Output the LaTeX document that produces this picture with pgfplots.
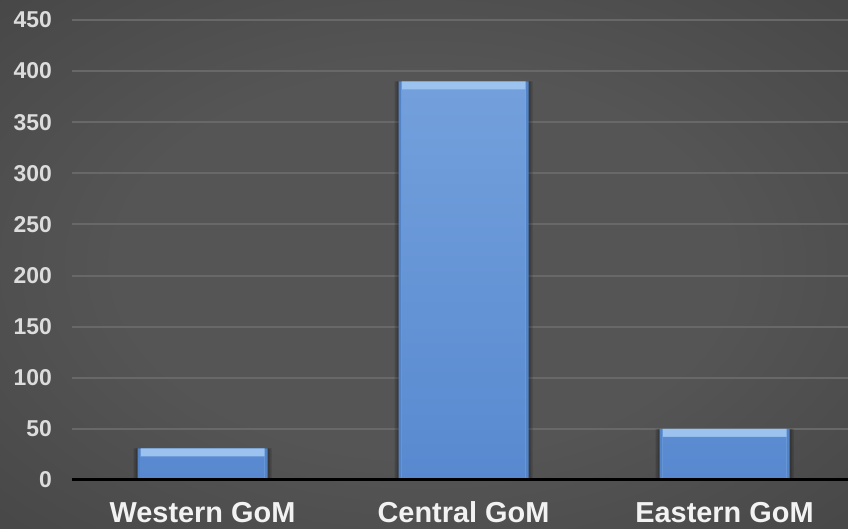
\documentclass[border=0pt]{standalone}
\usepackage{fontspec}
\setmainfont{Liberation Sans}
\usepackage{pgfplots}
\usepackage{pgfplotstable}
\pgfplotsset{compat=1.18}

\definecolor{bgcentre}{HTML}{555555}
\definecolor{bgmid}{HTML}{3C3C3C}
\definecolor{bgedge}{HTML}{262626}
\definecolor{gridgray}{HTML}{686868}
\definecolor{ticktext}{HTML}{DCDCDC}
\definecolor{bartop}{HTML}{73A0DC}
\definecolor{barbottom}{HTML}{5889D0}
\definecolor{barlight}{HTML}{9CC3F0}
\definecolor{barside}{HTML}{5384C8}

\pgfdeclareradialshading{chartbg}{\pgfpoint{0bp}{0bp}}{%
  color(0bp)=(bgcentre); color(18bp)=(bgcentre); color(50bp)=(bgmid); color(72bp)=(bgedge)}

% gas volume by region
\pgfplotstableread{
x v
0 31
1 390
2 50
}\regiondata

\begin{document}
\begin{tikzpicture}[x=1bp,y=1bp]
\useasboundingbox (0,0) rectangle (848,529);
\clip (0,0) rectangle (848,529);
\shade[shading=chartbg] (0,0) rectangle (848,529);
\begin{axis}[
  at={(72bp,49bp)}, anchor=south west,
  scale only axis, width=783bp, height=460bp,
  xmin=-0.5, xmax=2.5, ymin=0, ymax=450,
  xtick={0,1,2},
  xticklabels={Western GoM, Central GoM, Eastern GoM},
  ytick={0,50,...,450},
  axis line style={draw=none},
  tick style={draw=none},
  ymajorgrids,
  grid style={gridgray, line width=2bp},
  /pgf/number format/assume math mode=true,
  yticklabel style={font=\fontsize{23}{27}\selectfont\bfseries, color=ticktext,
    anchor=east, inner sep=0pt, xshift=-20bp},
  xticklabel style={font=\fontsize{29}{34}\selectfont\bfseries, color=white!95!black,
    anchor=base, inner sep=0pt, yshift=-43bp},
  clip=false,
]
% soft shadow around each bar
\addplot[ybar, bar width=138bp, bar shift=0pt, fill=black, fill opacity=0.16, draw=none]
  table[x=x, y=v] {\regiondata};
\addplot[ybar, bar width=134bp, bar shift=0pt, fill=black, fill opacity=0.16, draw=none]
  table[x=x, y=v] {\regiondata};
% bar body: darker side bevels
\addplot[ybar, bar width=130bp, bar shift=0pt, fill=barside, draw=none]
  table[x=x, y=v] {\regiondata};
% light top bevel
\addplot[ybar, bar width=124bp, bar shift=0pt, fill=barlight, draw=none]
  table[x=x, y=v] {\regiondata};
% flat face below the bevel
\addplot[ybar, bar width=124bp, bar shift=0pt, draw=none,
  top color=bartop, bottom color=barbottom]
  table[x=x, y expr=\thisrow{v}-7.8] {\regiondata};
% zero line
\draw[black, line width=3bp] (rel axis cs:0,0) -- (rel axis cs:1,0);
\end{axis}
\end{tikzpicture}
\end{document}
